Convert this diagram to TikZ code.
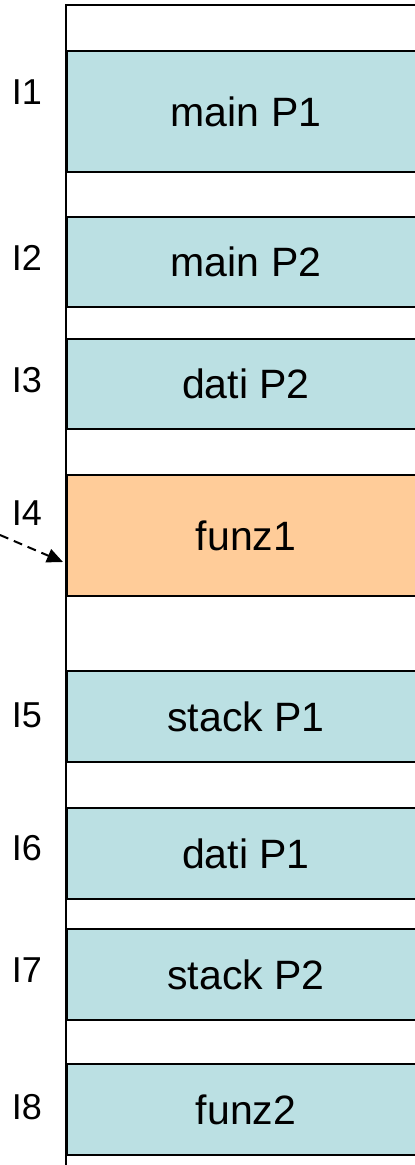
\documentclass[tikz,border=0pt]{standalone}
\usepackage{fontspec}
\setmainfont{Liberation Sans}
\usetikzlibrary{arrows.meta,calc}
\definecolor{blk}{HTML}{BBE0E3}
\definecolor{org}{HTML}{FFCC99}
\begin{document}
\begin{tikzpicture}[x=1pt,y=-1pt,
  seg/.style={draw=black, line width=2pt, fill=blk, anchor=north west,
    minimum width=358pt, inner sep=0pt, font=\fontsize{41}{43}\selectfont},
  lab/.style={font=\fontsize{36}{38}\selectfont, inner sep=0pt},
  frame/.style={line width=2pt}]
\useasboundingbox (0,0) rectangle (415,1165);
\clip (0,0) rectangle (415,1165);
\coordinate (ftop) at (420,5);
\coordinate (fcorner) at (66,5);
\coordinate (fbot) at (66,1170);
\draw[frame] (ftop) -- (fcorner) -- (fbot);
\node[seg, minimum height=121pt] (b1) at (66,50) {main P1};
\node[seg, minimum height=90pt] (b2) at (66,216) {main P2};
\node[seg, minimum height=90pt] (b3) at (66,338) {dati P2};
\node[seg, minimum height=121pt, fill=org] (b4) at (66,474) {funz1};
\node[seg, minimum height=91pt] (b5) at (66,670) {stack P1};
\node[seg, minimum height=91pt] (b6) at (66,807) {dati P1};
\node[seg, minimum height=91pt] (b7) at (66,928) {stack P2};
\node[seg, minimum height=91pt] (b8) at (66,1063) {funz2};
\node[lab] (l1) at (27,92) {I1};
\node[lab] (l2) at (27,258) {I2};
\node[lab] (l3) at (27,380) {I3};
\node[lab] (l4) at (27,513) {I4};
\node[lab] (l5) at (27,715) {I5};
\node[lab] (l6) at (27,848) {I6};
\node[lab] (l7) at (27,970) {I7};
\node[lab] (l8) at (27,1107) {I8};
\coordinate (astart) at (0,535);
\draw[dashed, line width=2pt, dash pattern=on 9pt off 6pt, -{Triangle[length=16pt,width=14pt]}]
  (astart) -- ($(b4.south west)+(-3,-35)$);
\end{tikzpicture}
\end{document}
